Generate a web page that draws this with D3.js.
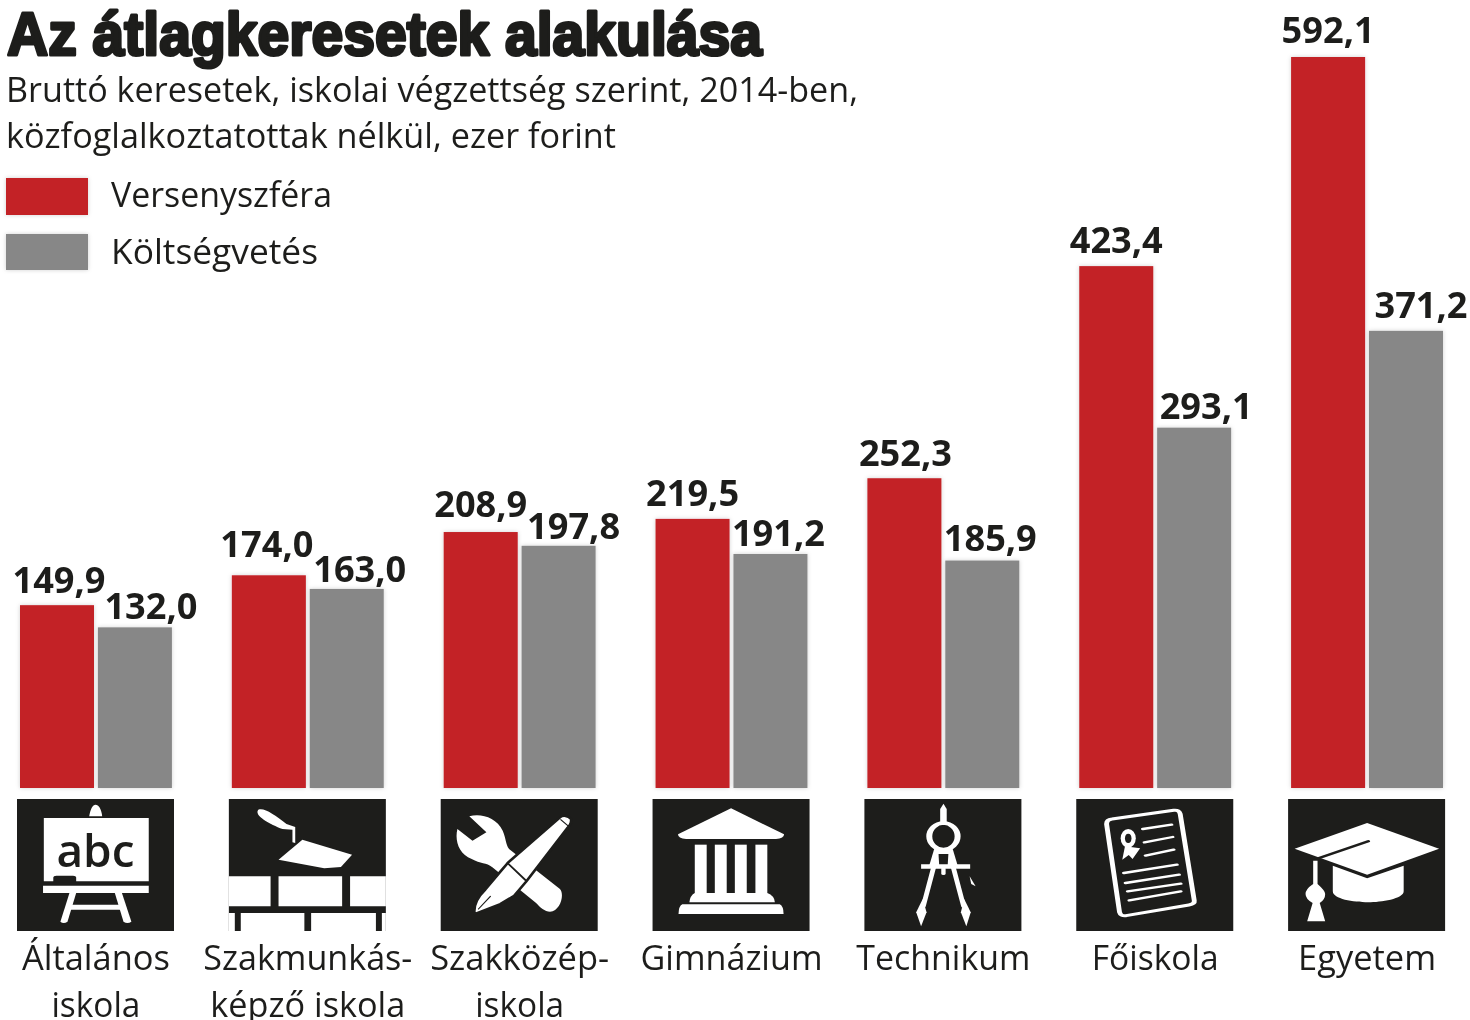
<!DOCTYPE html>
<html lang="hu"><head><meta charset="utf-8">
<script src="https://cdn.jsdelivr.net/npm/d3@7"></script>
<style>html,body{margin:0;background:#fff}svg{display:block;filter:blur(.45px)}text{font-family:"Open Sans","Noto Sans",sans-serif;fill:#1d1d1b}</style>
</head><body><div id="c"></div>
<script>
const categories=["Általános iskola","Szakmunkásképző iskola","Szakközépiskola","Gimnázium","Technikum","Főiskola","Egyetem"];
const versenyszfera=[149.9,174.0,208.9,219.5,252.3,423.4,592.1];
const koltsegvetes=[132.0,163.0,197.8,191.2,185.9,293.1,371.2];
const seriesNames=["Versenyszféra","Költségvetés"];
const categoryLines=[["Általános","iskola"],["Szakmunkás-","képző iskola"],["Szakközép-","iskola"],["Gimnázium"],["Technikum"],["Főiskola"],["Egyetem"]];
const titleText="Az átlagkeresetek alakulása";
const subtitleLines=["Bruttó keresetek, iskolai végzettség szerint, 2014-ben,","közfoglalkoztatottak nélkül, ezer forint"];

// layout
const W=1470,H=1020,ink="#1d1d1b",red="#c32026",grey="#878787",barBottom=788;
const redDx=[2,-2,0,0,1,0,0],redDy=[12,18,15,13,12,13,14];
const greyDx=[16,13,15,8,8,12,15],greyDy=[8,7,7,8,10,9,13];
const lineWidths=[[148,89],[209,195],[179,89],[182],[174],[127],[138]];

const svg=d3.select("#c").append("svg").attr("width",W).attr("height",H);
const defs=svg.append("defs");
const f=defs.append("filter").attr("id","halo").attr("x","-10%").attr("y","-10%").attr("width","120%").attr("height","120%");
f.append("feDropShadow").attr("dx",0).attr("dy",0).attr("stdDeviation",2).attr("flood-color","#000").attr("flood-opacity",.18);

const x=d3.scaleBand().domain(categories).range([20,1443]).paddingInner(.283);
const x1=d3.scaleBand().domain(seriesNames).range([0,x.bandwidth()]).paddingInner(.05);
const y=d3.scaleLinear().domain([0,592.1]).range([791,57]);
const colour=d3.scaleOrdinal().domain(seriesNames).range([red,grey]);
const rows=categories.map((c,i)=>({c,i,v:[versenyszfera[i],koltsegvetes[i]]}));

function fitted(sel,len){return sel.attr("textLength",len).attr("lengthAdjust","spacingAndGlyphs");}

// title + subtitle
fitted(svg.append("text").attr("x",7).attr("y",55).attr("font-size",62).style("font-family","'Liberation Sans Narrow','Liberation Sans',sans-serif").attr("font-weight",700).attr("stroke",ink).attr("stroke-width",3.2).attr("stroke-linejoin","round").text(titleText),755);
subtitleLines.forEach((t,i)=>fitted(svg.append("text").attr("x",6).attr("y",[102,148][i]).attr("font-size",35).text(t),[852,610][i]));

// legend
seriesNames.forEach((s,i)=>{
  svg.append("rect").attr("x",6).attr("y",[178,234][i]).attr("width",82).attr("height",[37,36][i]).attr("fill",colour(s)).attr("filter","url(#halo)");
  fitted(svg.append("text").attr("x",111).attr("y",[207,264][i]).attr("font-size",35).text(s),[221,207][i]);
});

// bars + value labels
const g=svg.selectAll("g.cat").data(rows).join("g").attr("class","cat").attr("transform",d=>`translate(${x(d.c)},0)`);
g.selectAll("rect").data(d=>seriesNames.map((s,k)=>({s,v:d.v[k]}))).join("rect")
 .attr("x",d=>x1(d.s)).attr("width",x1.bandwidth()).attr("y",d=>y(d.v)).attr("height",d=>barBottom-y(d.v))
 .attr("fill",d=>colour(d.s)).attr("filter","url(#halo)");
const fmt=v=>v.toFixed(1).replace(".",",");
g.selectAll("text.val").data(d=>seriesNames.map((s,k)=>({s,k,i:d.i,v:d.v[k]}))).join("text").attr("class","val")
 .attr("text-anchor","middle").attr("font-size",35).attr("font-weight",700)
 .attr("x",d=>x1(d.s)+x1.bandwidth()/2+(d.k?greyDx:redDx)[d.i])
 .attr("y",d=>y(d.v)-(d.k?greyDy:redDy)[d.i]).attr("textLength",93).attr("lengthAdjust","spacingAndGlyphs").text(d=>fmt(d.v));

// category labels
rows.forEach(d=>{
  categoryLines[d.i].forEach((t,j)=>{
    fitted(svg.append("text").attr("text-anchor","middle").attr("font-size",35)
      .attr("x",x(d.c)+x.bandwidth()/2).attr("y",[970,1017][j]).text(t),lineWidths[d.i][j]);
  });
});

// icons (decorative glyphs, drawn in the box's own 0..w / 0..396 space)
const W1="#fff",K=ink;
function box(i){
  const b=svg.append("g").attr("transform",`translate(${x(categories[i])-3},799)`);
  b.append("rect").attr("width",157).attr("height",132).attr("fill",K);
  return b;
}
function space(b,w){return b.append("g").attr("transform",`scale(${157/w},${132/396})`);}
const P=(s,d,o={})=>{const e=s.append("path").attr("d",d).attr("fill",o.fill===undefined?W1:o.fill);
  if(o.stroke)e.attr("stroke",o.stroke).attr("stroke-width",o.w||6).attr("stroke-linejoin","round").attr("stroke-linecap","round");return e;};

// 0 board
{const b=box(0),s=space(b,398);
 P(s,"M68,57H334V247H68Z");
 P(s,"M183,52C186,30 192,17 199,17C207,17 214,30 216,52Z");
 P(s,"M92,250V236Q92,230 100,230H142Q150,230 150,236V250Z",{fill:K});
 P(s,"M66,260H334V282H66Z");
 P(s,"M133,282H150L128,368Q118,376 110,368Z");
 P(s,"M248,282H266L290,368Q280,376 270,368Z");
 P(s,"M125,317H270V332H125Z");
 b.append("text").attr("x",78.5).attr("y",68).attr("text-anchor","middle").attr("font-size",46).attr("font-weight",600).attr("textLength",78).attr("lengthAdjust","spacingAndGlyphs").style("fill",K).text("abc");
}
// 1 trowel + bricks
{const b=box(1),s=space(b,395);
 P(s,"M74,32C90,25 115,48 145,75L167,84V132L160,130V92L135,90C105,76 62,50 74,32Z");
 P(s,"M185,122L310,167L282,204L240,208L125,182Z");
 P(s,"M0,232H105V322H0Z");P(s,"M125,232H285V322H125Z");P(s,"M305,232H395V322H305Z");
 P(s,"M0,342H395V396H0Z");
 P(s,"M15,342H30V396H15Z",{fill:K});P(s,"M190,342H207V396H190Z",{fill:K});P(s,"M370,342H385V396H370Z",{fill:K});
}
// 2 wrench + pen
{const b=box(2),s=space(b,395);
 P(s,"M72,52C100,42 140,55 156,95C165,120 163,135 172,150L300,270C312,285 302,335 275,338C262,338 250,325 240,312L130,205C115,190 100,195 78,180C45,165 35,125 42,90L80,125L115,100L72,52Z");
 P(s,"M300,55C308,48 320,50 328,60C330,72 325,80 318,88L215,248L185,290L150,315L85,345C82,320 92,295 112,272L145,225L170,190Z",{stroke:K,w:7});
 P(s,"M168,192L214,244",{fill:"none",stroke:K,w:5});
 P(s,"M302,62L322,82",{fill:"none",stroke:K,w:3});
 P(s,"M95,330L125,292",{fill:"none",stroke:K,w:3});
}
// 3 temple
{const b=box(3),s=space(b,290);
 P(s,"M145,28L243,106Q243,118 228,120H62Q47,118 47,106Z");
 [78,115,152,190].forEach(c=>P(s,`M${c},137H${c+22}V282H${c}Z`));
 P(s,"M78,282H212Q225,290 226,310H68Q69,290 78,282Z");
 P(s,"M55,316H235Q242,322 242,345H48Q48,322 55,316Z");
}
// 4 compass
{const b=box(4),s=space(b,288);
 P(s,"M145,14L151,30V78H139V30Z");
 s.append("ellipse").attr("cx",145).attr("cy",112).attr("rx",26).attr("ry",40).attr("fill","none").attr("stroke",W1).attr("stroke-width",11);
 P(s,"M128,150H162L172,205H118Z");
 P(s,"M136,165H154L152,222H138Z",{fill:K});
 P(s,"M104,196H194V209H104Z");
 P(s,"M145,209V224",{fill:"none",stroke:W1,w:8});
 P(s,"M127,205L108,322",{fill:"none",stroke:W1,w:9});
 P(s,"M163,205L182,322",{fill:"none",stroke:W1,w:9});
 P(s,"M107,300L114,340L104,382L95,340Z");
 P(s,"M183,300L195,340L187,382L177,340Z");
 P(s,"M193,232L204,262L196,255Z");
}
// 5 diploma
{const b=box(5),s=space(b,290);
 P(s,"M66,60L180,34Q190,32 192,45L218,305Q219,315 208,318L92,350Q82,352 80,340L56,75Q56,62 66,60Z",{fill:"none",stroke:W1,w:9});
 s.append("ellipse").attr("cx",96).attr("cy",118).attr("rx",14).attr("ry",28).attr("fill",W1);
 s.append("ellipse").attr("cx",96).attr("cy",118).attr("rx",6).attr("ry",14).attr("fill",K);
 P(s,"M90,142L85,182L97,168L104,180L118,148Z");
 [[123,90,176,77],[126,130,178,114],[128,170,180,152],[88,222,186,197],[91,252,190,227],[95,277,193,254],[98,304,193,277]].forEach(a=>
   P(s,`M${a[0]},${a[1]}L${a[2]},${a[3]}`,{fill:"none",stroke:W1,w:7}));
}
// 6 cap
{const b=box(6),s=space(b,288);
 P(s,"M145,72L277,149L145,227L12,149Z");
 P(s,"M82,200L145,238L212,200V277C212,300 170,310 147,310C120,310 82,300 82,277Z");
 P(s,"M57,177L147,127",{fill:"none",stroke:K,w:7});
 P(s,"M46,185H54V255Q68,275 68,285Q68,302 58,312L68,367H35L45,312Q32,300 32,285Q32,270 46,255Z");
}
</script></body></html>
